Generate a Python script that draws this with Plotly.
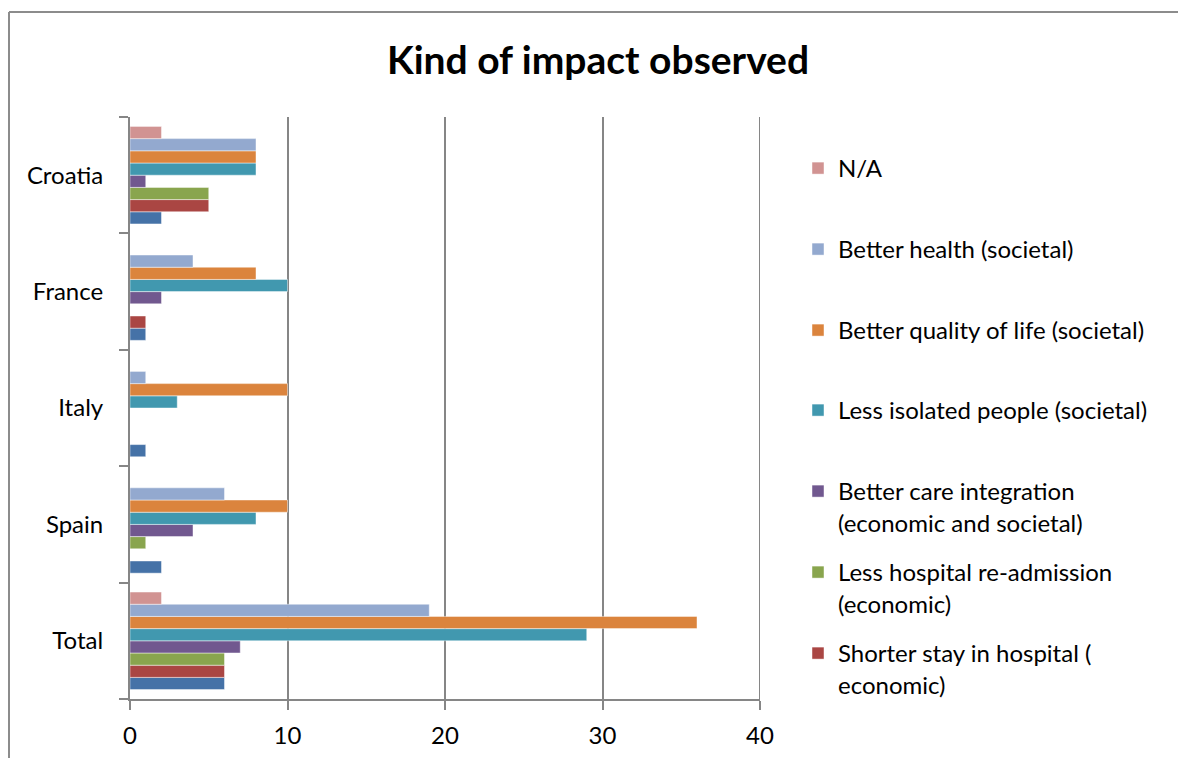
import plotly.graph_objects as go

# Countries, listed bottom-to-top on the category axis
countries = ["Total", "Spain", "Italy", "France", "Croatia"]

# Series values per country (same order as `countries`)
other_vals = [6, 2, 1, 1, 2]
shorter_stay = [6, 0, 0, 1, 5]
less_readmission = [6, 1, 0, 0, 5]
care_integration = [7, 4, 0, 2, 1]
less_isolated = [29, 8, 3, 10, 8]
quality_of_life = [36, 10, 10, 8, 8]
better_health = [19, 6, 1, 4, 8]
not_available = [2, 0, 0, 0, 2]

x_ticks = [0, 10, 20, 30, 40]

FONT = "Lato"
W, H = 1178, 758
L, R, T, B = 130, 760, 117, 699  # plot area in pixels


def px_x(px):
    return (px - L) / (R - L)


def px_y(py):
    return (B - py) / (B - T)


series = [
    ("Other", other_vals, "#4572A7", None),
    ("Shorter stay in hospital (<br>economic)", shorter_stay, "#AA4643", 653),
    ("Less hospital re-admission<br>(economic)", less_readmission, "#89A54E", 572),
    ("Better care integration<br>(economic and societal)", care_integration, "#71588F", 491),
    ("Less isolated people (societal)", less_isolated, "#4198AF", 410),
    ("Better quality of life (societal)", quality_of_life, "#DB843D", 330),
    ("Better health (societal)", better_health, "#93A9CF", 249),
    ("N/A", not_available, "#D19392", 168),
]

fig = go.Figure()
legend_layouts = {}
leg_idx = 0
for name, vals, color, ly in series:
    kw = {}
    if ly is None:
        kw["showlegend"] = False
    else:
        leg_idx += 1
        key = "legend" if leg_idx == 1 else f"legend{leg_idx}"
        kw["legend"] = key
        legend_layouts[key] = dict(
            x=px_x(798), xanchor="left",
            y=px_y(ly - 22), yanchor="top",
            valign="top",
            bgcolor="rgba(0,0,0,0)",
            font=dict(family=FONT, size=24, color="#000000"),
        )
    fig.add_trace(go.Bar(
        y=countries, x=vals, name=name, orientation="h",
        marker=dict(color=color, line=dict(color="rgba(255,255,255,0.45)", width=1)),
        **kw,
    ))

shapes = [
    # chart frame (top and left edges)
    dict(type="line", xref="paper", yref="paper",
         x0=px_x(9), x1=px_x(1190), y0=px_y(12), y1=px_y(12),
         line=dict(color="#8C8C8C", width=2)),
    dict(type="line", xref="paper", yref="paper",
         x0=px_x(9), x1=px_x(9), y0=px_y(12), y1=px_y(770),
         line=dict(color="#8C8C8C", width=2)),
    # gridline at the end of the value axis
    dict(type="line", xref="x", yref="paper",
         x0=x_ticks[-1], x1=x_ticks[-1], y0=0, y1=1,
         line=dict(color="#868686", width=2)),
]

fig.update_layout(
    width=W, height=H,
    margin=dict(l=L, r=W - R, t=T, b=H - B, autoexpand=False),
    paper_bgcolor="white", plot_bgcolor="white",
    barmode="group", bargap=0.162, bargroupgap=0,
    title=dict(text="<b>Kind of impact observed</b>", x=598 / W, xanchor="center",
               y=1 - 60 / H, yanchor="middle", yref="container",
               font=dict(family=FONT, size=39, color="#000000")),
    font=dict(family=FONT, size=24, color="#000000"),
    shapes=shapes,
    **legend_layouts,
)

fig.update_xaxes(
    range=[0, 40], tickvals=x_ticks, ticktext=[str(v) for v in x_ticks],
    showgrid=True, gridcolor="#868686", gridwidth=2,
    showline=True, linecolor="#868686", linewidth=2,
    ticks="outside", ticklen=9, tickwidth=2, tickcolor="#868686",
    zeroline=False, ticklabelstandoff=5,
    tickfont=dict(family=FONT, size=24, color="#000000"),
)
fig.update_yaxes(
    type="category", categoryorder="array", categoryarray=countries,
    range=[-0.5, 4.5],
    showgrid=False, showline=True, linecolor="#868686", linewidth=2,
    ticks="outside", ticklen=9, tickwidth=2, tickcolor="#868686",
    tickson="boundaries", ticklabelstandoff=20,
    tickfont=dict(family=FONT, size=24, color="#000000"),
)

fig.write_html("out.html")
